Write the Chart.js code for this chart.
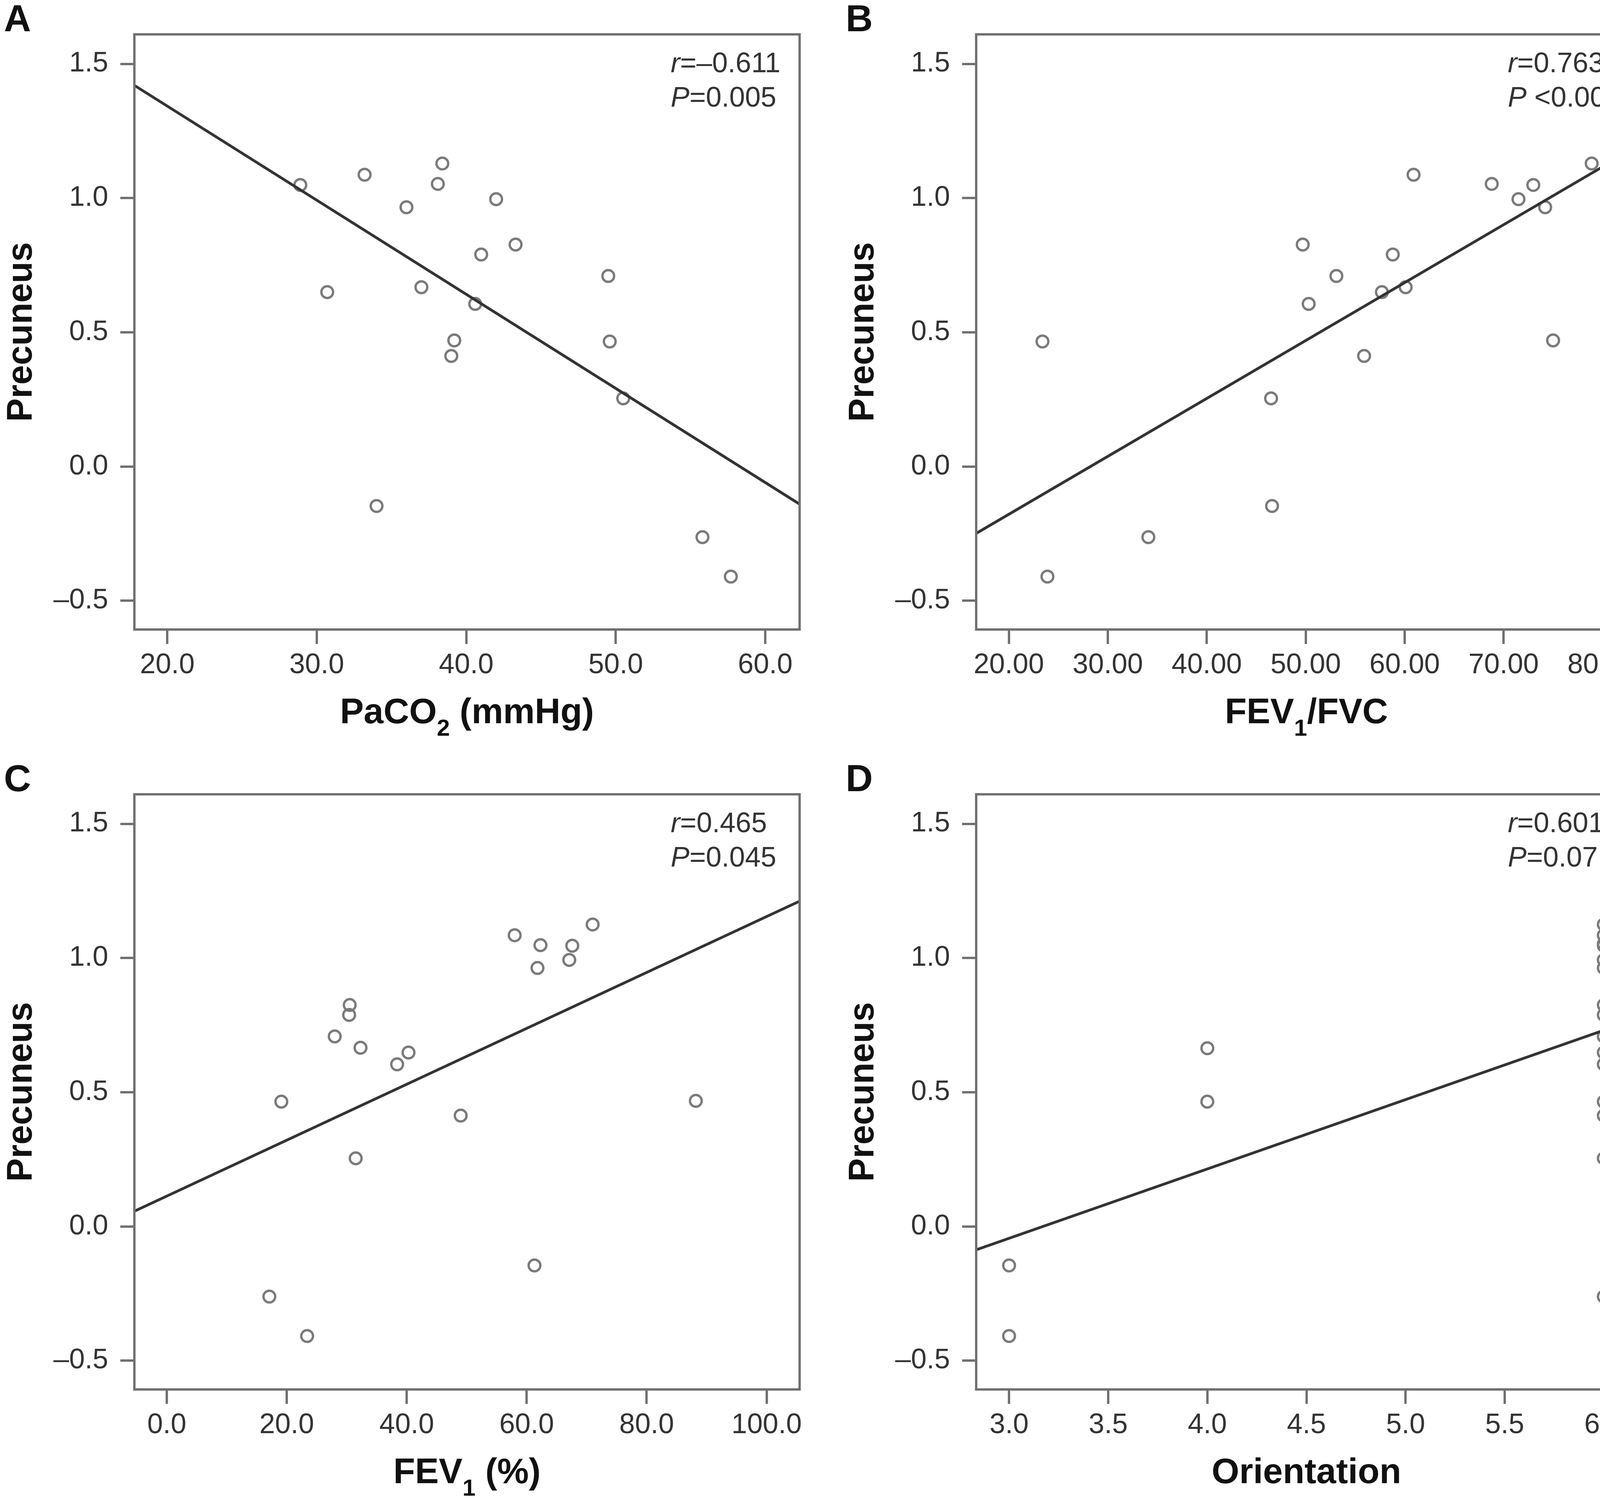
<!DOCTYPE html>
<html>
<head>
<meta charset="utf-8">
<script src="https://cdn.jsdelivr.net/npm/chart.js@4.4.1/dist/chart.umd.min.js"></script>
<style>
    body { margin: 0; background: #fff; width: 4211px; height: 3836px; position: relative; overflow: hidden; }
    .panel { position: absolute; }
</style>
</head>
<body>
<div class="panel" style="left:0;top:0;width:2105px;height:1890px"><canvas id="chartA"></canvas></div>
<div class="panel" style="left:2155px;top:0;width:2056px;height:1890px"><canvas id="chartB"></canvas></div>
<div class="panel" style="left:0;top:1946px;width:2105px;height:1890px"><canvas id="chartC"></canvas></div>
<div class="panel" style="left:2155px;top:1946px;width:2056px;height:1890px"><canvas id="chartD"></canvas></div>
<script>
// shared y axis (Precuneus)
const yTicks = [-0.5, 0.0, 0.5, 1.0, 1.5];
const yMin = -0.607, yMax = 1.61;

// A: PaCO2
const paco2 = [28.9, 33.2, 30.7, 36.0, 37.0, 38.1, 38.4, 42.0, 41.0, 43.3, 40.6, 39.2, 39.0, 34.0, 49.5, 49.6, 50.5, 55.8, 57.7];
const precuneusA = [1.049, 1.087, 0.650, 0.966, 0.668, 1.053, 1.129, 0.996, 0.790, 0.827, 0.606, 0.470, 0.412, -0.147, 0.710, 0.466, 0.254, -0.263, -0.410];
const xTicksA = [20, 30, 40, 50, 60];
const fitXA = [17.8, 62.3];
const fitYA = [1.42, -0.14];

// B: FEV1/FVC
const fevFvc = [23.4, 23.9, 34.1, 46.5, 46.6, 49.7, 50.3, 53.1, 55.9, 57.7, 58.8, 60.1, 60.9, 68.8, 71.5, 73.0, 74.2, 78.9, 75.0];
const precuneusB = [0.466, -0.410, -0.263, 0.254, -0.147, 0.827, 0.606, 0.710, 0.412, 0.650, 0.790, 0.668, 1.087, 1.053, 0.996, 1.049, 0.966, 1.129, 0.470];
const xTicksB = [20, 30, 40, 50, 60, 70, 80];
const fitXB = [16.7, 83.45];
const fitYB = [-0.249, 1.191];

// C: FEV1 (%)
const fev1 = [17.1, 23.4, 19.1, 28.0, 30.4, 30.5, 32.3, 31.5, 38.4, 40.3, 49.0, 58.0, 62.3, 61.8, 61.3, 67.1, 67.6, 71.0, 88.2];
const precuneusC = [-0.261, -0.408, 0.465, 0.708, 0.788, 0.825, 0.666, 0.254, 0.604, 0.648, 0.413, 1.085, 1.048, 0.963, -0.145, 0.993, 1.046, 1.125, 0.468];
const xTicksC = [0, 20, 40, 60, 80, 100];
const fitXC = [-5.4, 105.5];
const fitYC = [0.057, 1.212];

// D: Orientation
const orientation = [3, 3, 4, 4, 6, 6, 6, 6, 6, 6, 6, 6, 6, 6, 6, 6, 6, 6, 6];
const precuneusD = [-0.145, -0.408, 0.664, 0.465, 1.125, 1.085, 1.053, 1.046, 0.993, 0.963, 0.825, 0.788, 0.708, 0.648, 0.604, 0.465, 0.413, 0.254, -0.261];
const xTicksD = [3.0, 3.5, 4.0, 4.5, 5.0, 5.5, 6.0];
const fitXD = [2.834, 6.166];
const fitYD = [-0.087, 0.774];

const FONT = '"Liberation Sans", Arial, sans-serif';
const AXIS_GREY = '#707070';

function fmt(v, d) {
    return v.toFixed(d).replace('-', '\u2013');
}

// draws the box, panel letter, x title with subscript and the r / P text
const panelDecor = {
    id: 'panelDecor',
    afterDraw(chart, args, opts) {
        const { ctx, chartArea: a } = chart;
        ctx.save();
        ctx.strokeStyle = AXIS_GREY;
        ctx.lineWidth = 6;
        ctx.strokeRect(a.left, a.top, a.right - a.left, a.bottom - a.top);

        ctx.fillStyle = '#111';
        ctx.textAlign = 'left';
        ctx.textBaseline = 'alphabetic';
        ctx.font = 'bold 96px ' + FONT;
        ctx.fillText(opts.letter, 10, 80);

        // x axis title
        const parts = opts.xTitle.map(([t, kind]) => {
            const font = kind === 'sub' ? 'bold 60px ' + FONT : 'bold 91px ' + FONT;
            ctx.font = font;
            return { t, kind, font, w: ctx.measureText(t).width };
        });
        const total = parts.reduce((s, p) => s + p.w, 0);
        let x = (a.left + a.right) / 2 - total / 2;
        const base = a.bottom + 240;
        parts.forEach(p => {
            ctx.font = p.font;
            ctx.fillText(p.t, x, p.kind === 'sub' ? base + 32 : base);
            x += p.w;
        });

        // stats
        ctx.fillStyle = '#333';
        opts.stats.forEach((line, i) => {
            let sx = a.right - 330;
            const sy = a.top + 97 + i * 88;
            line.forEach(([t, kind]) => {
                ctx.font = (kind === 'it' ? 'italic ' : '') + '72px ' + FONT;
                ctx.fillText(t, sx, sy);
                sx += ctx.measureText(t).width;
            });
        });
        ctx.restore();
    }
};

function makePanel(id, xs, ys, fitX, fitY, xTicks, xMin, xMax, dec, letter, xTitle, stats) {
    new Chart(document.getElementById(id), {
        type: 'scatter',
        data: {
            datasets: [
                {
                    type: 'line',
                    data: fitX.map((x, i) => ({ x, y: fitY[i] })),
                    borderColor: '#333',
                    borderWidth: 7,
                    pointRadius: 0,
                    fill: false
                },
                {
                    data: xs.map((x, i) => ({ x, y: ys[i] })),
                    pointRadius: 15,
                    pointBorderWidth: 6,
                    pointBorderColor: '#7a7a7a',
                    pointBackgroundColor: 'rgba(0,0,0,0)',
                    pointStyle: 'circle'
                }
            ]
        },
        options: {
            responsive: true,
            maintainAspectRatio: false,
            devicePixelRatio: 1,
            animation: false,
            layout: { padding: { left: 2, top: 88, right: id === 'chartA' || id === 'chartC' ? 58 : 13, bottom: 15 } },
            plugins: {
                legend: { display: false },
                tooltip: { enabled: false },
                panelDecor: { letter, xTitle, stats }
            },
            scales: {
                x: {
                    type: 'linear',
                    min: xMin,
                    max: xMax,
                    afterBuildTicks: axis => { axis.ticks = xTicks.map(v => ({ value: v })); },
                    afterFit: axis => { axis.height = 263; },
                    border: { display: false },
                    grid: { drawOnChartArea: false, drawTicks: true, tickLength: 37, color: AXIS_GREY, lineWidth: 6 },
                    ticks: {
                        padding: 12,
                        color: '#333',
                        font: { family: FONT, size: 72 },
                        maxRotation: 0,
                        callback: v => fmt(v, dec)
                    }
                },
                y: {
                    type: 'linear',
                    min: yMin,
                    max: yMax,
                    afterBuildTicks: axis => { axis.ticks = yTicks.map(v => ({ value: v })); },
                    afterFit: axis => { axis.width = 342; },
                    border: { display: false },
                    grid: { drawOnChartArea: false, drawTicks: true, tickLength: 36, color: AXIS_GREY, lineWidth: 6 },
                    ticks: {
                        padding: 31,
                        color: '#333',
                        font: { family: FONT, size: 72 },
                        callback: v => fmt(v, 1)
                    },
                    title: {
                        display: true,
                        text: 'Precuneus',
                        color: '#111',
                        padding: 0,
                        font: { family: FONT, size: 90, weight: 'bold' }
                    }
                }
            }
        },
        plugins: [panelDecor]
    });
}

makePanel('chartA', paco2, precuneusA, fitXA, fitYA, xTicksA, 17.8, 62.3, 1, 'A',
    [['PaCO', ''], ['2', 'sub'], [' (mmHg)', '']],
    [[['r', 'it'], ['=\u20130.611', '']], [['P', 'it'], ['=0.005', '']]]);

makePanel('chartB', fevFvc, precuneusB, fitXB, fitYB, xTicksB, 16.7, 83.45, 2, 'B',
    [['FEV', ''], ['1', 'sub'], ['/FVC', '']],
    [[['r', 'it'], ['=0.763', '']], [['P', 'it'], [' <0.001', '']]]);

makePanel('chartC', fev1, precuneusC, fitXC, fitYC, xTicksC, -5.4, 105.5, 1, 'C',
    [['FEV', ''], ['1', 'sub'], [' (%)', '']],
    [[['r', 'it'], ['=0.465', '']], [['P', 'it'], ['=0.045', '']]]);

makePanel('chartD', orientation, precuneusD, fitXD, fitYD, xTicksD, 2.834, 6.166, 1, 'D',
    [['Orientation', '']],
    [[['r', 'it'], ['=0.601', '']], [['P', 'it'], ['=0.07', '']]]);
</script>
</body>
</html>
